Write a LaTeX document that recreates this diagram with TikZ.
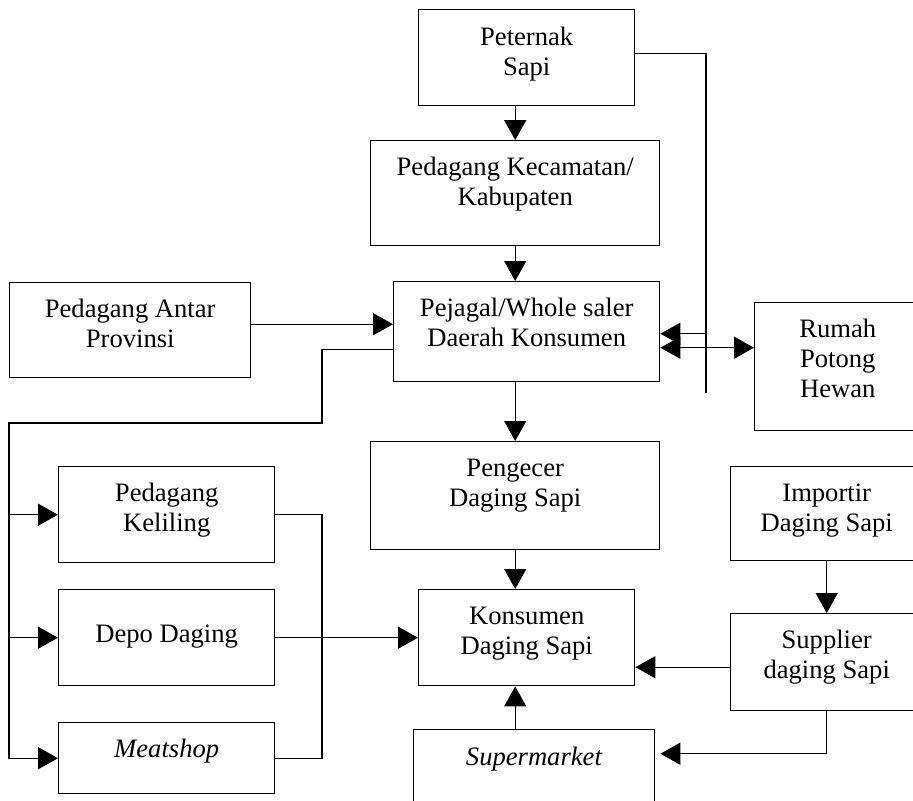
\documentclass[tikz,border=0pt]{standalone}
\usepackage{fontspec}
\setmainfont{Liberation Serif}
\usepackage{tikz}
\usetikzlibrary{arrows.meta}
\tikzstyle{flowbox} = [draw=black, line width=0.7pt, rectangle, inner sep=0pt, anchor=north west]
\tikzstyle{flowline} = [draw=black, line width=0.7pt]
\newcommand{\boxtxt}[4][7pt]{\parbox[c][#3][t]{#2}{\centering\vspace*{#1}\strut #4}}

\begin{document}
\begin{tikzpicture}[x=0.5pt, y=-0.5pt, >={Triangle[length=10pt,width=11pt]},
    every node/.style={font=\fontsize{13.3}{15}\selectfont}]
        \useasboundingbox (0,0) rectangle (913,800);
        \node [flowbox] (peternak) at (418,9) {\boxtxt[7.5pt]{108pt}{48pt}{Peternak\\Sapi}};
        \node [flowbox] (kecamatan) at (370,140) {\boxtxt{144.5pt}{52.5pt}{Pedagang Kecamatan/\\Kabupaten}};
        \node [flowbox] (pejagal) at (393,281) {\boxtxt{133pt}{50pt}{Pejagal/Whole saler\\Daerah Konsumen}};
        \node [flowbox] (antar) at (9,282) {\boxtxt{120.5pt}{47.5pt}{Pedagang Antar\\Provinsi}};
        \node [flowbox] (rumah) at (754,302) {\boxtxt{83pt}{64pt}{Rumah\\Potong\\Hewan}};
        \node [flowbox] (pengecer) at (370,441) {\boxtxt{144.5pt}{54pt}{Pengecer\\Daging Sapi}};
        \node [flowbox] (keliling) at (58,466) {\boxtxt{108pt}{48pt}{Pedagang\\Keliling}};
        \node [flowbox] (depo) at (58,589) {\boxtxt[16pt]{108pt}{48pt}{Depo Daging}};
        \node [flowbox] (meatshop) at (58,722) {\boxtxt{108pt}{35.5pt}{\textit{Meatshop}}};
        \node [flowbox] (konsumen) at (418,589) {\boxtxt{108pt}{48pt}{Konsumen\\Daging Sapi}};
        \node [flowbox] (supermarket) at (413,729) {\boxtxt[7.5pt]{120.5pt}{38pt}{\textit{Supermarket}}};
        \node [flowbox] (importir) at (730,466) {\boxtxt{96pt}{47pt}{Importir\\Daging Sapi}};
        \node [flowbox] (supplier) at (730,613) {\boxtxt{96pt}{48.5pt}{Supplier\\daging Sapi}};

        \coordinate (hline) at (706,393);
        \coordinate (fork) at (322,423);
        \coordinate (rail) at (9,423);

        \draw [flowline, ->] (peternak.south -| kecamatan.north) -- (kecamatan.north);
        \draw [flowline, ->] (kecamatan.south) -- (kecamatan.south |- pejagal.north);
        \draw [flowline, ->] (pejagal.south -| pengecer.north) -- (pengecer.north);
        \draw [flowline, ->] (pengecer.south) -- (pengecer.south |- konsumen.north);
        \draw [flowline, ->] (supermarket.north -| pengecer.south) -- (konsumen.south -| pengecer.south);
        \draw [flowline] ([yshift=2pt]peternak.east) -| (hline);
        \draw [flowline, ->] ([yshift=-1pt]pejagal.east -| hline) -- ([yshift=-1pt]pejagal.east);
        \draw [flowline, <->] ([yshift=-8pt]pejagal.east) -- ([yshift=-8pt]pejagal.east -| rumah.west);
        \draw [flowline, ->] ([yshift=3pt]antar.east) -- ([yshift=3pt]antar.east -| pejagal.west);
        \draw [flowline, ->] ([yshift=-9pt]pejagal.west) -| (fork) -- (rail) |- (meatshop.west);
        \draw [flowline, ->] (rail |- keliling.west) -- (keliling.west);
        \draw [flowline, ->] (rail |- depo.west) -- (depo.west);
        \draw [flowline] (keliling.east) -| (fork |- meatshop.east) -- (meatshop.east);
        \draw [flowline, ->] (depo.east) -- (konsumen.west);
        \draw [flowline, ->] ([yshift=-2.5pt]supplier.west) -- ([yshift=-2.5pt]supplier.west -| konsumen.east);
        \draw [flowline, ->] (importir) -- (supplier);
        \draw [flowline, ->] (supplier.south) |- ([yshift=7pt, xshift=2.5pt]supermarket.east);
    \end{tikzpicture}
\end{document}
